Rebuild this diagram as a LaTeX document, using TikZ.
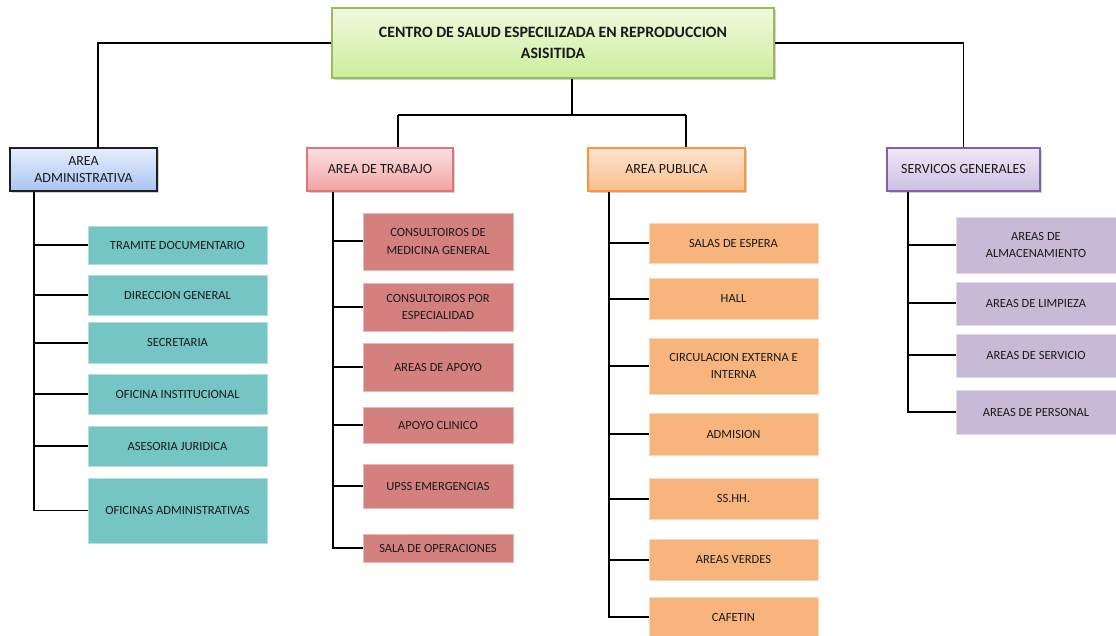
\documentclass[tikz,border=0pt]{standalone}
\usepackage{fontspec}
\setmainfont{Carlito}
\usetikzlibrary{shadows}

\definecolor{titlebd}{HTML}{9BBB59}
\definecolor{titletop}{HTML}{F0FADF}
\definecolor{titlebot}{HTML}{CDED9B}
\definecolor{admbd}{HTML}{1F1F1F}
\definecolor{admtop}{HTML}{E6EEFC}
\definecolor{admbot}{HTML}{A9C4F2}
\definecolor{trabbd}{HTML}{D9787A}
\definecolor{trabtop}{HTML}{FBE0E0}
\definecolor{trabbot}{HTML}{F2A3A3}
\definecolor{pubbd}{HTML}{F79646}
\definecolor{pubtop}{HTML}{FDE3CF}
\definecolor{pubbot}{HTML}{FBBF8C}
\definecolor{servbd}{HTML}{8064A2}
\definecolor{servtop}{HTML}{EEE8F6}
\definecolor{servbot}{HTML}{CDBFE3}
\definecolor{tealfill}{HTML}{75C5C4}
\definecolor{rosefill}{HTML}{D4807F}
\definecolor{orngfill}{HTML}{F7B47C}
\definecolor{lilafill}{HTML}{C8B9D7}
\definecolor{textcol}{HTML}{1A1A1A}

\begin{document}
\begin{tikzpicture}[x=1pt,y=-1pt,
    every node/.style={text=textcol,align=center},
    head/.style={draw=#1,line width=1.5pt,inner sep=2pt,font=\fontsize{14}{17}\selectfont,
      drop shadow={shadow xshift=2pt,shadow yshift=-2pt,opacity=0.35}},
    leaf/.style={fill=#1,draw=#1!55!white,line width=0.5pt,inner sep=2pt,font=\fontsize{12.5}{17.5}\selectfont},
    link/.style={draw=black,line width=1.7pt}]

    \useasboundingbox (0,0) rectangle (1116,636);

    % titulo
    \node[head=titlebd,top color=titletop,bottom color=titlebot,
          minimum width=442pt,minimum height=70pt,font=\bfseries\fontsize{15.8}{21}\selectfont]
          (TOP) at (553,43) {CENTRO DE SALUD ESPECILIZADA EN REPRODUCCION\\ASISITIDA};

    % areas
    \node[head=admbd,top color=admtop,bottom color=admbot,
          minimum width=147pt,minimum height=43pt] (ADM) at (83.5,169.5) {AREA\\ADMINISTRATIVA};
    \node[head=trabbd,top color=trabtop,bottom color=trabbot,
          minimum width=146pt,minimum height=43pt] (TRAB) at (380,169.5) {AREA DE TRABAJO};
    \node[head=pubbd,top color=pubtop,bottom color=pubbot,
          minimum width=157pt,minimum height=43pt] (PUB) at (666.5,169.5) {AREA PUBLICA};
    \node[head=servbd,top color=servtop,bottom color=servbot,
          minimum width=153pt,minimum height=43pt] (SERV) at (963.5,169.5) {SERVICOS GENERALES};

    \coordinate (J) at (572,115);

    \draw[link] (TOP.west) -| (98,148);
    \draw[link] (TOP.east) -| (SERV.north);
    \draw[link] (TOP.south -| J) -- (J);
    \draw[link] (398,115) -- (686,115);
    \draw[link] (398,115) -- (TRAB.north -| 398,0);
    \draw[link] (686,115) -- (PUB.north -| 686,0);

    % area administrativa
    \node[leaf=tealfill,minimum width=179pt,minimum height=38pt] (A1) at (177.5,245) {TRAMITE DOCUMENTARIO};
    \node[leaf=tealfill,minimum width=179pt,minimum height=40pt] (A2) at (177.5,295) {DIRECCION GENERAL};
    \node[leaf=tealfill,minimum width=179pt,minimum height=41pt] (A3) at (177.5,342.5) {SECRETARIA};
    \node[leaf=tealfill,minimum width=179pt,minimum height=40pt] (A4) at (177.5,394) {OFICINA INSTITUCIONAL};
    \node[leaf=tealfill,minimum width=179pt,minimum height=40pt] (A5) at (177.5,446) {ASESORIA JURIDICA};
    \node[leaf=tealfill,minimum width=179pt,minimum height=65pt] (A6) at (177.5,510.5) {OFICINAS ADMINISTRATIVAS};

    \draw[link] (ADM.south -| 34,0) |- (A6.west);
    \draw[link] (34,245) -- (A1.west);
    \draw[link] (34,295) -- (A2.west);
    \draw[link] (34,343) -- (A3.west |- 0,343);
    \draw[link] (34,394) -- (A4.west);
    \draw[link] (34,446) -- (A5.west);

    % area de trabajo
    \node[leaf=rosefill,minimum width=150pt,minimum height=57pt] (T1) at (438,241.5) {CONSULTOIROS DE\\MEDICINA GENERAL};
    \node[leaf=rosefill,minimum width=150pt,minimum height=48pt] (T2) at (438,307) {CONSULTOIROS POR\\ESPECIALIDAD};
    \node[leaf=rosefill,minimum width=150pt,minimum height=48pt] (T3) at (438,367) {AREAS DE APOYO};
    \node[leaf=rosefill,minimum width=150pt,minimum height=36pt] (T4) at (438,425) {APOYO CLINICO};
    \node[leaf=rosefill,minimum width=150pt,minimum height=44pt] (T5) at (438,486) {UPSS EMERGENCIAS};
    \node[leaf=rosefill,minimum width=150pt,minimum height=28pt] (T6) at (438,548) {SALA DE OPERACIONES};

    \draw[link] (TRAB.south -| 333,0) |- (T6.west);
    \draw[link] (333,241) -- (T1.west |- 0,241);
    \draw[link] (333,307) -- (T2.west);
    \draw[link] (333,367) -- (T3.west);
    \draw[link] (333,425) -- (T4.west);
    \draw[link] (333,486) -- (T5.west);

    % area publica
    \node[leaf=orngfill,minimum width=169pt,minimum height=40pt] (P1) at (733.5,243) {SALAS DE ESPERA};
    \node[leaf=orngfill,minimum width=169pt,minimum height=41pt] (P2) at (733.5,298.5) {HALL};
    \node[leaf=orngfill,minimum width=169pt,minimum height=56pt] (P3) at (733.5,366) {CIRCULACION EXTERNA E\\INTERNA};
    \node[leaf=orngfill,minimum width=169pt,minimum height=42pt] (P4) at (733.5,434) {ADMISION};
    \node[leaf=orngfill,minimum width=169pt,minimum height=41pt] (P5) at (733.5,498.5) {SS.HH.};
    \node[leaf=orngfill,minimum width=169pt,minimum height=41pt] (P6) at (733.5,559.5) {AREAS VERDES};
    \node[leaf=orngfill,minimum width=169pt,minimum height=40pt] (P7) at (733.5,617) {CAFETIN};

    \draw[link] (PUB.south -| 609,0) |- (P7.west);
    \draw[link] (609,243) -- (P1.west);
    \draw[link] (609,299) -- (P2.west |- 0,299);
    \draw[link] (609,366) -- (P3.west);
    \draw[link] (609,434) -- (P4.west);
    \draw[link] (609,499) -- (P5.west |- 0,499);
    \draw[link] (609,560) -- (P6.west |- 0,560);

    % servicios generales
    \node[leaf=lilafill,minimum width=160pt,minimum height=56pt] (S1) at (1036,245) {AREAS DE\\ALMACENAMIENTO};
    \node[leaf=lilafill,minimum width=160pt,minimum height=43pt] (S2) at (1036,303.5) {AREAS DE LIMPIEZA};
    \node[leaf=lilafill,minimum width=160pt,minimum height=43pt] (S3) at (1036,355.5) {AREAS DE SERVICIO};
    \node[leaf=lilafill,minimum width=160pt,minimum height=44pt] (S4) at (1036,412) {AREAS DE PERSONAL};

    \draw[link] (SERV.south -| 908,0) |- (S4.west);
    \draw[link] (908,245) -- (S1.west);
    \draw[link] (908,303) -- (S2.west |- 0,303);
    \draw[link] (908,355) -- (S3.west |- 0,355);

\end{tikzpicture}
\end{document}
